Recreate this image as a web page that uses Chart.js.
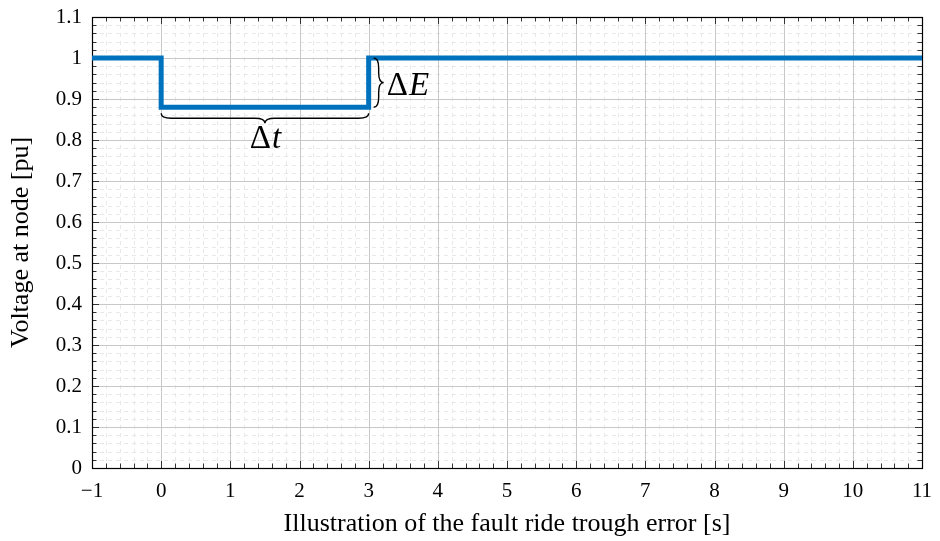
<!DOCTYPE html>
<html>
<head>
<meta charset="utf-8">
<script src="https://cdn.jsdelivr.net/npm/chart.js@4.4.1/dist/chart.umd.min.js"></script>
<style>
  html, body { margin: 0; padding: 0; background: #fff; }
  #wrap { width: 940px; height: 541px; }
</style>
</head>
<body>
<div id="wrap"><canvas id="fault-canvas"></canvas></div>
<script>
// voltage profile: step corners (stepped line holds level until next x)
const timeValues = [-1, 0, 3, 11];
const voltageValues = [1, 0.88, 1, 1];

const xTicks = [-1, 0, 1, 2, 3, 4, 5, 6, 7, 8, 9, 10, 11];
const yTicks = [0, 0.1, 0.2, 0.3, 0.4, 0.5, 0.6, 0.7, 0.8, 0.9, 1, 1.1];
const minorPerMajor = 5;

// annotated interval
const dipStart = 0;
const dipEnd = 3;
const dipLevel = 0.88;
const nominal = 1;

const serif = "'Liberation Serif', 'DejaVu Serif', serif";

const fmt = (v) => {
    const r = Math.round(v * 10) / 10;
    return r < 0 ? '\u2212' + Math.abs(r) : String(r);
};

// minor grid, inward ticks and the frame on all four sides
const frameGrid = {
    id: 'frameGrid',
    beforeDatasetsDraw(chart) {
        const { ctx, chartArea: a, scales: { x, y } } = chart;
        ctx.save();
        ctx.lineWidth = 1;
        ctx.strokeStyle = '#e8e8e8';
        ctx.setLineDash([4, 4]);
        for (let i = 0; i < xTicks.length - 1; i++) {
            for (let k = 1; k < minorPerMajor; k++) {
                const v = xTicks[i] + (xTicks[i + 1] - xTicks[i]) * k / minorPerMajor;
                const px = Math.round(x.getPixelForValue(v)) + 0.5;
                ctx.beginPath(); ctx.moveTo(px, a.top); ctx.lineTo(px, a.bottom); ctx.stroke();
            }
        }
        for (let i = 0; i < yTicks.length - 1; i++) {
            for (let k = 1; k < minorPerMajor; k++) {
                const v = yTicks[i] + (yTicks[i + 1] - yTicks[i]) * k / minorPerMajor;
                const py = Math.round(y.getPixelForValue(v)) + 0.5;
                ctx.beginPath(); ctx.moveTo(a.left, py); ctx.lineTo(a.right, py); ctx.stroke();
            }
        }
        ctx.setLineDash([]);

        // major grid
        ctx.strokeStyle = '#c8c8c8';
        xTicks.forEach(v => {
            const px = Math.round(x.getPixelForValue(v)) + 0.5;
            ctx.beginPath(); ctx.moveTo(px, a.top); ctx.lineTo(px, a.bottom); ctx.stroke();
        });
        yTicks.forEach(v => {
            const py = Math.round(y.getPixelForValue(v)) + 0.5;
            ctx.beginPath(); ctx.moveTo(a.left, py); ctx.lineTo(a.right, py); ctx.stroke();
        });

        // tick marks pointing inwards
        ctx.strokeStyle = '#333';
        const tickX = (v, len) => {
            const px = Math.round(x.getPixelForValue(v)) + 0.5;
            ctx.beginPath();
            ctx.moveTo(px, a.bottom); ctx.lineTo(px, a.bottom - len);
            ctx.moveTo(px, a.top); ctx.lineTo(px, a.top + len);
            ctx.stroke();
        };
        const tickY = (v, len) => {
            const py = Math.round(y.getPixelForValue(v)) + 0.5;
            ctx.beginPath();
            ctx.moveTo(a.left, py); ctx.lineTo(a.left + len, py);
            ctx.moveTo(a.right, py); ctx.lineTo(a.right - len, py);
            ctx.stroke();
        };
        for (let i = 0; i < xTicks.length; i++) {
            tickX(xTicks[i], 7);
            if (i < xTicks.length - 1) {
                for (let k = 1; k < minorPerMajor; k++) tickX(xTicks[i] + (xTicks[i + 1] - xTicks[i]) * k / minorPerMajor, 4.5);
            }
        }
        for (let i = 0; i < yTicks.length; i++) {
            tickY(yTicks[i], 7);
            if (i < yTicks.length - 1) {
                for (let k = 1; k < minorPerMajor; k++) tickY(yTicks[i] + (yTicks[i + 1] - yTicks[i]) * k / minorPerMajor, 4.5);
            }
        }

        ctx.strokeStyle = '#000';
        ctx.lineWidth = 1.2;
        ctx.strokeRect(Math.round(a.left) + 0.5, Math.round(a.top) + 0.5, Math.round(a.right - a.left), Math.round(a.bottom - a.top));
        ctx.restore();
    }
};

// curly brace between two points, bulging towards (nx, ny)
function brace(ctx, x1, y1, x2, y2, amp, nx, ny) {
    const len = Math.hypot(x2 - x1, y2 - y1);
    const ux = (x2 - x1) / len, uy = (y2 - y1) / len;
    const P = (s, t) => [x1 + ux * s + nx * t, y1 + uy * s + ny * t];
    const h = amp / 2, m = len / 2, c = Math.min(amp, len / 4);
    ctx.beginPath();
    let p = P(0, 0); ctx.moveTo(p[0], p[1]);
    let q = P(0, h); p = P(c, h); ctx.quadraticCurveTo(q[0], q[1], p[0], p[1]);
    p = P(m - c, h); ctx.lineTo(p[0], p[1]);
    q = P(m, h); p = P(m, amp); ctx.quadraticCurveTo(q[0], q[1], p[0], p[1]);
    q = P(m, h); p = P(m + c, h); ctx.quadraticCurveTo(q[0], q[1], p[0], p[1]);
    p = P(len - c, h); ctx.lineTo(p[0], p[1]);
    q = P(len, h); p = P(len, 0); ctx.quadraticCurveTo(q[0], q[1], p[0], p[1]);
    ctx.stroke();
}

function mathLabel(ctx, sym, x, y, align) {
    const size = 33;
    ctx.font = size + "px " + serif;
    const wD = ctx.measureText('\u0394').width;
    ctx.font = "italic " + size + "px " + serif;
    const wS = ctx.measureText(sym).width;
    let left = align === 'center' ? x - (wD + wS) / 2 : x;
    ctx.textBaseline = 'middle';
    ctx.textAlign = 'left';
    ctx.font = size + "px " + serif;
    ctx.fillText('\u0394', left, y);
    ctx.font = "italic " + size + "px " + serif;
    ctx.fillText(sym, left + wD + 1, y);
}

const annotations = {
    id: 'annotations',
    afterDatasetsDraw(chart) {
        const { ctx, scales: { x, y } } = chart;
        ctx.save();
        ctx.strokeStyle = '#000';
        ctx.fillStyle = '#000';
        ctx.lineWidth = 1.4;
        const xs = x.getPixelForValue(dipStart), xe = x.getPixelForValue(dipEnd);
        const yl = y.getPixelForValue(dipLevel), yn = y.getPixelForValue(nominal);
        brace(ctx, xs, yl + 6, xe, yl + 6, 10, 0, 1);
        mathLabel(ctx, 't', (xs + xe) / 2, yl + 32, 'center');
        brace(ctx, xe + 5, yn, xe + 5, yl, 10, 1, 0);
        mathLabel(ctx, 'E', xe + 18, (yn + yl) / 2 + 4, 'left');
        ctx.restore();
    }
};

new Chart(document.getElementById('fault-canvas'), {
    type: 'line',
    data: {
        datasets: [{
            data: timeValues.map((t, i) => ({ x: t, y: voltageValues[i] })),
            stepped: true,
            borderColor: '#0072BD',
            borderWidth: 5,
            pointRadius: 0,
            fill: false
        }]
    },
    options: {
        responsive: true,
        maintainAspectRatio: false,
        animation: false,
        layout: { padding: { top: 17, right: 18, left: 0, bottom: 0 } },
        plugins: { legend: { display: false }, tooltip: { enabled: false } },
        scales: {
            x: {
                type: 'linear',
                min: -1, max: 11,
                afterBuildTicks: (s) => { s.ticks = xTicks.map(v => ({ value: v })); },
                afterFit: (s) => { s.height = 73; s.paddingLeft = 0; s.paddingRight = 0; },
                grid: { display: false, drawTicks: false },
                border: { display: false },
                ticks: {
                    padding: 11,
                    color: '#000',
                    font: { family: serif, size: 21 },
                    callback: fmt,
                    maxRotation: 0,
                    autoSkip: false
                },
                title: {
                    display: true,
                    text: 'Illustration of the fault ride trough error [s]',
                    color: '#000',
                    font: { family: serif, size: 26 },
                    padding: { top: 8, bottom: 1 }
                }
            },
            y: {
                min: 0, max: 1.1,
                afterBuildTicks: (s) => { s.ticks = yTicks.map(v => ({ value: v })); },
                afterFit: (s) => { s.width = 92; s.paddingTop = 0; s.paddingBottom = 0; },
                grid: { display: false, drawTicks: false },
                border: { display: false },
                ticks: {
                    padding: 10,
                    color: '#000',
                    font: { family: serif, size: 21 },
                    callback: fmt,
                    autoSkip: false
                },
                title: {
                    display: true,
                    text: 'Voltage at node [pu]',
                    color: '#000',
                    font: { family: serif, size: 26 },
                    padding: { top: 6, bottom: 4 }
                }
            }
        }
    },
    plugins: [frameGrid, annotations]
});
</script>
</body>
</html>
